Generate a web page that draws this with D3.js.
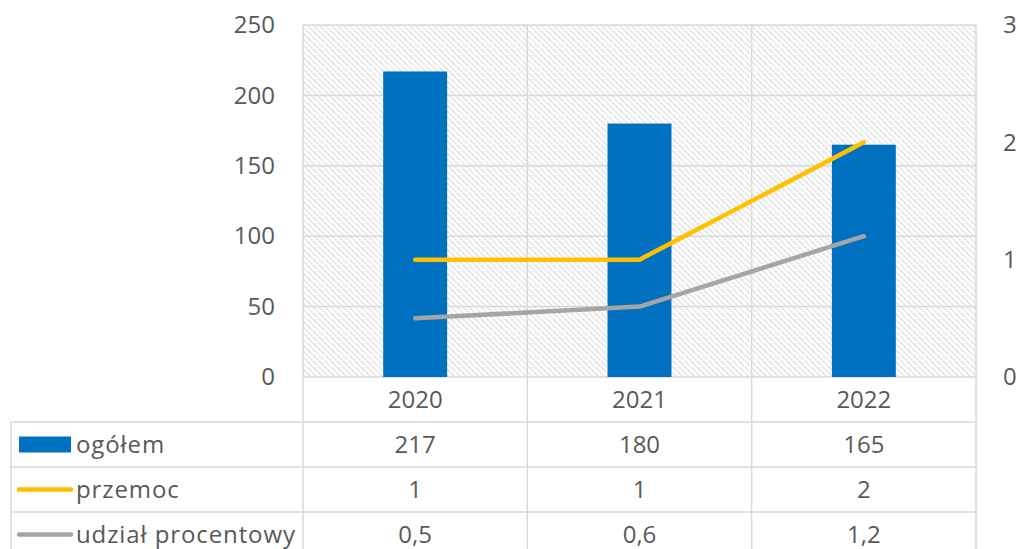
<!DOCTYPE html>
<html><head><meta charset="utf-8">
<script src="https://cdn.jsdelivr.net/npm/d3@7"></script>
<style>body{margin:0;background:#fff}svg{display:block}text{font-family:"Open Sans",sans-serif;fill:#595959}</style>
</head><body><svg id="c" width="1018" height="549"></svg>
<script>
const categories = ["2020","2021","2022"];
const ogolem = [217,180,165];
const przemoc = [1,1,2];
const udzial = [0.5,0.6,1.2];
const leftTicks = [0,50,100,150,200,250];
const rightTicks = [0,1,2,3];
const seriesNames = ["ogółem","przemoc","udział procentowy"];
const fmt = v => String(v).replace(".",",");

const svg = d3.select("#c");
const L=303,R=976,T=25,B=377, tableLeft=11, rowH=45;
const grid="#d9d9d9";
const x = d3.scaleBand().domain(categories).range([L,R]).padding(0);
const y = d3.scaleLinear().domain([0,250]).range([B,T]);
const y2 = d3.scaleLinear().domain([0,3]).range([B,T]);

const defs=svg.append("defs");
const pat=defs.append("pattern").attr("id","hatch").attr("patternUnits","userSpaceOnUse").attr("width",6).attr("height",6);
pat.append("rect").attr("width",6).attr("height",6).attr("fill","#fff");
pat.append("path").attr("d","M-1,-1 L7,7 M-1,5 L1,7 M5,-1 L7,1").attr("stroke","#cfcfcf").attr("stroke-width",1.3).attr("stroke-dasharray","2,1");

svg.append("rect").attr("x",L).attr("y",T).attr("width",R-L).attr("height",B-T).attr("fill","url(#hatch)");
svg.append("g").selectAll("line").data(leftTicks).join("line")
  .attr("x1",L).attr("x2",R).attr("y1",d=>y(d)).attr("y2",d=>y(d)).attr("stroke",grid).attr("stroke-width",1.5);
const bounds=[L,...categories.slice(1).map(c=>x(c)),R];
svg.append("g").selectAll("line").data(bounds).join("line")
  .attr("x1",d=>d).attr("x2",d=>d).attr("y1",T).attr("y2",549).attr("stroke",grid).attr("stroke-width",1.5);
svg.append("line").attr("x1",tableLeft).attr("x2",tableLeft).attr("y1",B+rowH).attr("y2",549).attr("stroke",grid).attr("stroke-width",1.5);
svg.append("g").selectAll("line").data([1,2,3]).join("line")
  .attr("x1",tableLeft).attr("x2",R).attr("y1",i=>B+rowH*i).attr("y2",i=>B+rowH*i).attr("stroke",grid).attr("stroke-width",1.5);

const bw = x.bandwidth()*0.285;
svg.append("g").selectAll("rect").data(ogolem).join("rect")
  .attr("x",(d,i)=>x(categories[i])+x.bandwidth()/2-bw/2).attr("width",bw)
  .attr("y",d=>y(d)).attr("height",d=>B-y(d)).attr("fill","#0070C0");

const line = d3.line().x((d,i)=>x(categories[i])+x.bandwidth()/2).y(d=>y2(d));
svg.append("path").datum(udzial).attr("d",line).attr("fill","none").attr("stroke","#A5A5A5").attr("stroke-width",4.5).attr("stroke-linecap","round").attr("stroke-linejoin","round");
svg.append("path").datum(przemoc).attr("d",line).attr("fill","none").attr("stroke","#FFC000").attr("stroke-width",4.5).attr("stroke-linecap","round").attr("stroke-linejoin","round");

const fs=24;
const ax=d3.axisLeft(y).tickValues(leftTicks).tickSize(0).tickPadding(0);
const gl=svg.append("g").attr("transform","translate(275,0)").call(ax);
gl.select(".domain").remove();
gl.selectAll("text").attr("font-size",fs).attr("font-family",null).attr("fill","#595959");
const ar=d3.axisRight(y2).tickValues(rightTicks).tickFormat(d3.format("d")).tickSize(0).tickPadding(0);
const gr=svg.append("g").attr("transform","translate(1003,0)").call(ar);
gr.select(".domain").remove();
gr.selectAll("text").attr("font-size",fs).attr("font-family",null).attr("fill","#595959");

const cx=c=>x(c)+x.bandwidth()/2;
svg.append("g").selectAll("text").data(categories).join("text")
  .attr("x",cx).attr("y",B+rowH/2).attr("dy","0.35em").attr("text-anchor","middle").attr("font-size",fs).text(d=>d);
const rows=[ogolem,przemoc,udzial];
rows.forEach((r,ri)=>{
  const yc=B+rowH*(ri+1)+rowH/2;
  svg.append("g").selectAll("text").data(r).join("text")
    .attr("x",(d,i)=>cx(categories[i])).attr("y",yc).attr("dy","0.35em").attr("text-anchor","middle").attr("font-size",fs).text(d=>fmt(d));
  svg.append("text").attr("x",76).attr("y",yc).attr("dy","0.35em").attr("font-size",fs).attr("letter-spacing",0.9).text(seriesNames[ri]);
});
svg.append("rect").attr("x",19).attr("y",B+rowH*1.5-8).attr("width",52).attr("height",16).attr("fill","#0070C0");
svg.append("line").attr("x1",19).attr("x2",71).attr("y1",B+rowH*2.5).attr("y2",B+rowH*2.5).attr("stroke","#FFC000").attr("stroke-width",4.5).attr("stroke-linecap","round");
svg.append("line").attr("x1",19).attr("x2",71).attr("y1",B+rowH*3.5).attr("y2",B+rowH*3.5).attr("stroke","#A5A5A5").attr("stroke-width",4.5).attr("stroke-linecap","round");
</script></body></html>
